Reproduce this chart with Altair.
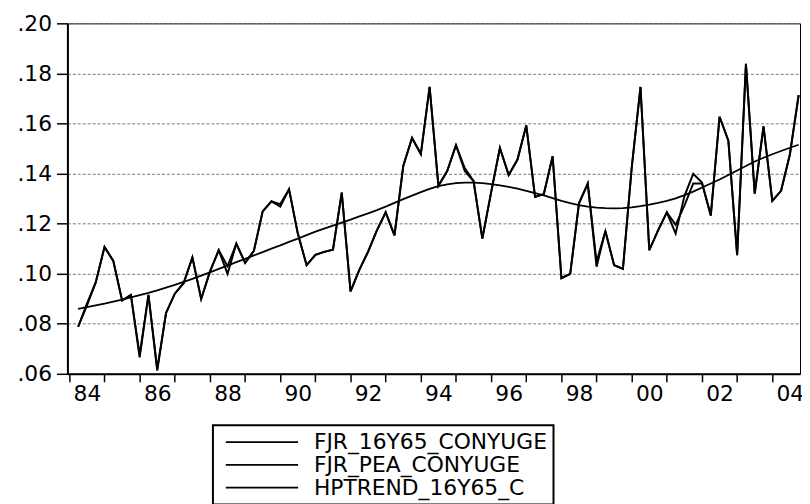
import altair as alt
import pandas as pd

# quarterly observations 1984Q2 .. 2004Q4
quarters = [str(p) for p in pd.period_range("1984Q2", "2004Q4", freq="Q")]

series_names = ["FJR_16Y65_CONYUGE", "FJR_PEA_CONYUGE", "HPTREND_16Y65_C"]

fjr_16y65 = [
    0.0788, 0.0880, 0.0965, 0.1107, 0.1051, 0.0893, 0.0915, 0.0666, 0.0915, 0.0613,
    0.0843, 0.0920, 0.0962, 0.1065, 0.0899, 0.1008, 0.1094, 0.0999, 0.1120, 0.1043,
    0.1091, 0.1249, 0.1289, 0.1268, 0.1337, 0.1160, 0.1034, 0.1075, 0.1087, 0.1096,
    0.1324, 0.0929, 0.1015, 0.1088, 0.1173, 0.1245, 0.1153, 0.1430, 0.1542, 0.1478,
    0.1746, 0.1351, 0.1410, 0.1513, 0.1410, 0.1370, 0.1140, 0.1325, 0.1502, 0.1394,
    0.1456, 0.1592, 0.1307, 0.1318, 0.1469, 0.0982, 0.0999, 0.1281, 0.1360, 0.1028,
    0.1170, 0.1034, 0.1019, 0.1423, 0.1746, 0.1094, 0.1173, 0.1245, 0.1160, 0.1310,
    0.1399, 0.1364, 0.1232, 0.1627, 0.1531, 0.1074, 0.1838, 0.1320, 0.1588, 0.1291,
    0.1331, 0.1476, 0.1713,
]

fjr_pea = [
    0.0788, 0.0872, 0.0965, 0.1107, 0.1051, 0.0893, 0.0915, 0.0676, 0.0915, 0.0620,
    0.0843, 0.0920, 0.0962, 0.1065, 0.0899, 0.1008, 0.1094, 0.1030, 0.1120, 0.1043,
    0.1091, 0.1249, 0.1289, 0.1278, 0.1337, 0.1160, 0.1034, 0.1075, 0.1087, 0.1096,
    0.1324, 0.0929, 0.1015, 0.1088, 0.1173, 0.1245, 0.1153, 0.1430, 0.1542, 0.1478,
    0.1746, 0.1351, 0.1410, 0.1513, 0.1422, 0.1370, 0.1140, 0.1325, 0.1502, 0.1394,
    0.1456, 0.1592, 0.1307, 0.1318, 0.1469, 0.0982, 0.0999, 0.1281, 0.1360, 0.1048,
    0.1170, 0.1034, 0.1019, 0.1423, 0.1746, 0.1094, 0.1173, 0.1245, 0.1195, 0.1272,
    0.1360, 0.1360, 0.1232, 0.1627, 0.1531, 0.1074, 0.1838, 0.1320, 0.1588, 0.1291,
    0.1331, 0.1476, 0.1713,
]

hp_trend = [
    0.0859, 0.0866, 0.0873, 0.0880, 0.0888, 0.0896, 0.0905, 0.0914, 0.0923, 0.0933,
    0.0944, 0.0955, 0.0967, 0.0979, 0.0992, 0.1005, 0.1019, 0.1032, 0.1046, 0.1059,
    0.1073, 0.1086, 0.1100, 0.1113, 0.1127, 0.1140, 0.1154, 0.1168, 0.1180, 0.1192,
    0.1204, 0.1216, 0.1229, 0.1241, 0.1254, 0.1268, 0.1283, 0.1298, 0.1312, 0.1326,
    0.1339, 0.1350, 0.1357, 0.1362, 0.1364, 0.1364, 0.1362, 0.1358, 0.1353, 0.1347,
    0.1340, 0.1331, 0.1322, 0.1313, 0.1302, 0.1291, 0.1282, 0.1274, 0.1268, 0.1264,
    0.1262, 0.1261, 0.1262, 0.1265, 0.1270, 0.1276, 0.1283, 0.1291, 0.1301, 0.1314,
    0.1328, 0.1344, 0.1360, 0.1376, 0.1394, 0.1412, 0.1430, 0.1448, 0.1463, 0.1477,
    0.1490, 0.1503, 0.1515,
]

x_ticks = list(range(1984, 2005))
y_ticks = [0.06, 0.08, 0.10, 0.12, 0.14, 0.16, 0.18, 0.20]

rows = []
for i, q in enumerate(quarters):
    t = int(q[:4]) + (int(q[-1]) - 1) / 4
    for name, vals in zip(series_names, [fjr_16y65, fjr_pea, hp_trend]):
        rows.append({"t": t, "value": vals[i], "series": name})
df = pd.DataFrame(rows)

FONT = "DejaVu Sans"

chart = (
    alt.Chart(df)
    .mark_line(interpolate="linear")
    .encode(
        x=alt.X(
            "t:Q",
            scale=alt.Scale(domain=[1983.944, 2004.789], nice=False, zero=False),
            axis=alt.Axis(
                values=x_ticks,
                title=None,
                grid=False,
                labelExpr="datum.value % 2 == 0 ? slice(toString(datum.value), 2) : ''",
                labelOffset=17.75,
                labelFlush=False,
                labelOverlap=False,
                tickSize=8,
                labelPadding=2,
                domainWidth=2,
                tickWidth=1.5,
            ),
        ),
        y=alt.Y(
            "value:Q",
            scale=alt.Scale(domain=[0.06, 0.20], nice=False, zero=False),
            axis=alt.Axis(
                values=y_ticks,
                title=None,
                labelExpr="replace(format(datum.value, '.2f'), '0.', '.')",
                grid=True,
                gridDash=[3, 2],
                gridColor="#777777",
                gridWidth=1,
                tickSize=11,
                labelPadding=5,
                domainWidth=2,
                tickWidth=1.5,
                labelFlush=False,
                labelOverlap=False,
            ),
        ),
        color=alt.Color(
            "series:N",
            scale=alt.Scale(domain=series_names, range=["black", "black", "black"]),
            legend=alt.Legend(
                title=None,
                orient="none",
                legendX=147,
                legendY=406,
                symbolType="stroke",
                symbolSize=5329,
                symbolStrokeWidth=1.2,
                symbolOffset=6,
                labelOffset=15,
                labelFont=FONT,
                labelFontSize=22,
                labelColor="black",
                labelLimit=500,
                clipHeight=22,
                padding=6,
                rowPadding=1,
                strokeColor="black",
                fillColor="white",
            ),
        ),
        strokeWidth=alt.StrokeWidth(
            "series:N",
            scale=alt.Scale(domain=series_names, range=[2.0, 1.8, 1.2]),
            legend=None,
        ),
    )
    .properties(
        width=740,
        height=354,
        autosize=alt.AutoSizeParams(type="none"),
        padding={"left": 60, "top": 13, "right": 2, "bottom": 129},
    )
    .configure_view(stroke="black", strokeWidth=1)
    .configure_axis(
        domainColor="black",
        tickColor="black",
        labelColor="black",
        labelFont=FONT,
        labelFontSize=22,
    )
    .configure_legend(strokeWidth=2)
)

chart.save("out.html", embed_options={"renderer": "svg", "actions": False})
